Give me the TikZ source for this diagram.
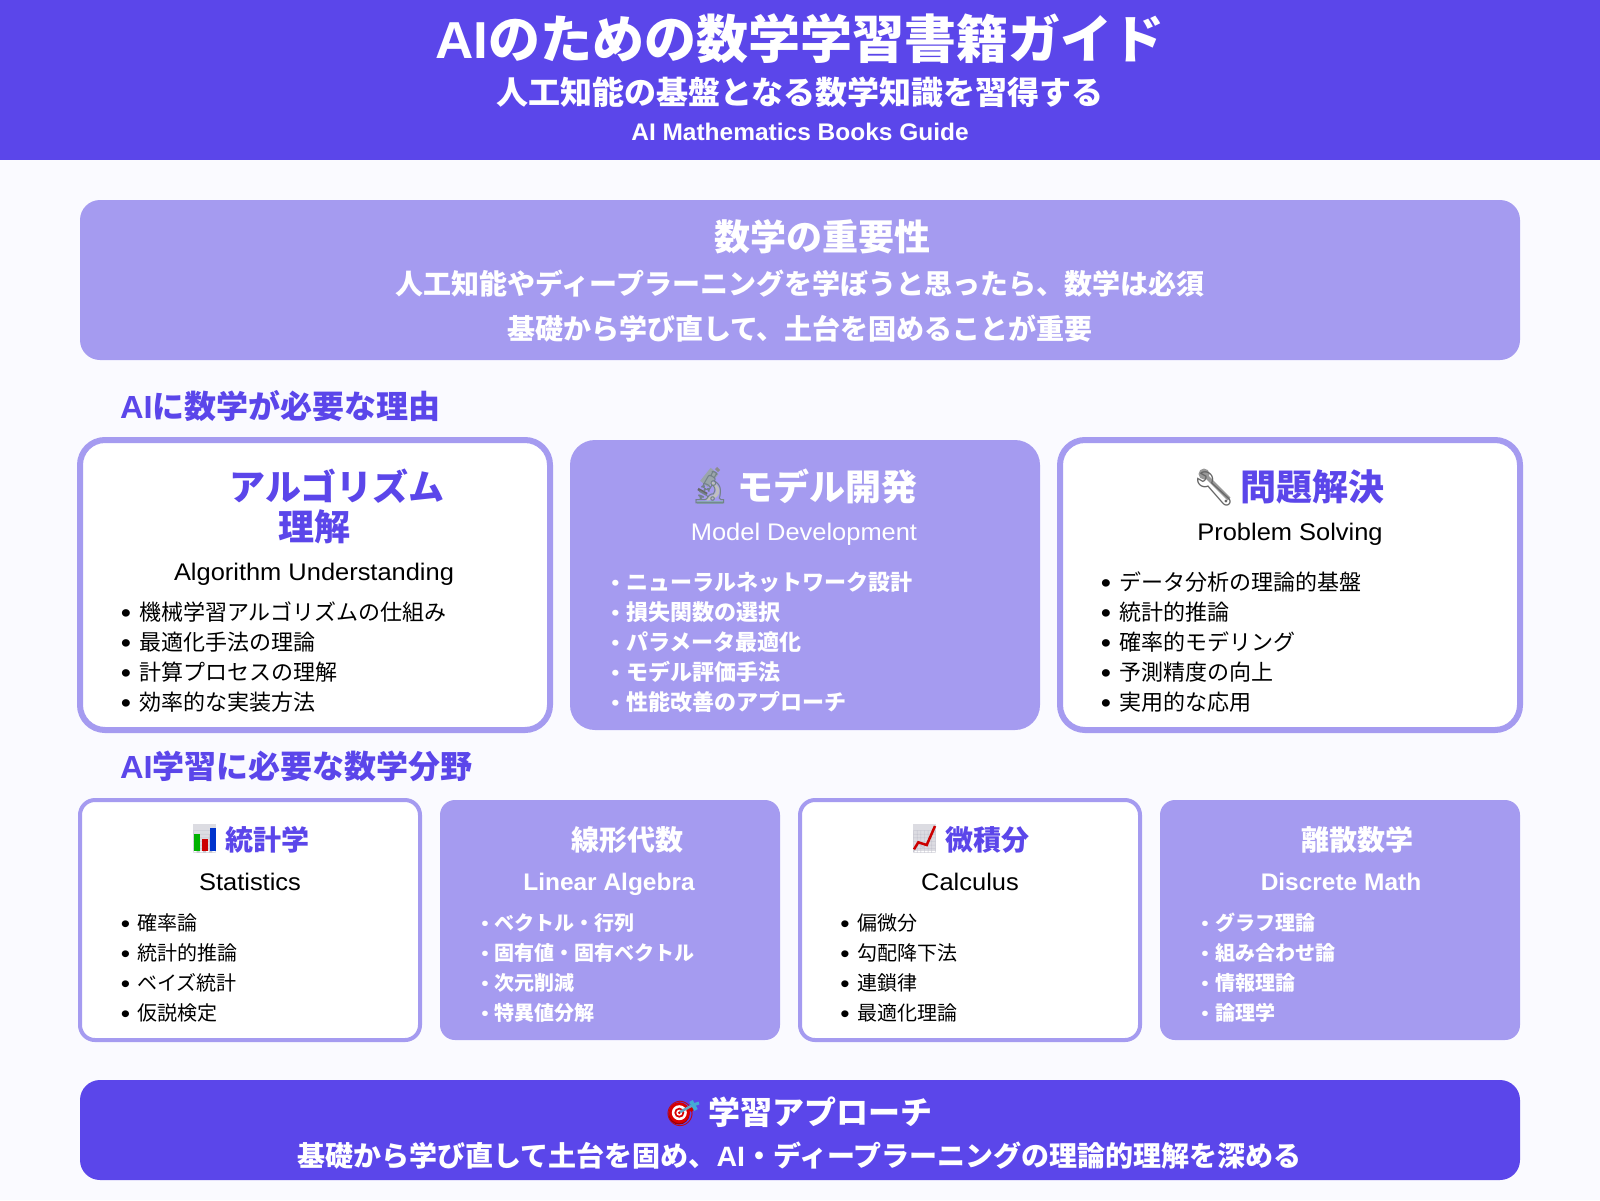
\documentclass[tikz,border=0pt]{standalone}
\usepackage{fontspec}
\newfontfamily\jp{Noto Sans CJK JP}
\newcommand{\jpm}{\jp\bfseries}
\newfontfamily\la[FakeStretch=1.06,BoldFeatures={FakeStretch=1.02}]{Liberation Sans}
\newfontfamily\emo{Noto Emoji}
\definecolor{deep}{HTML}{5B46EA}
\definecolor{soft}{HTML}{A59BF0}
\definecolor{paper}{HTML}{FAFAFF}
\newcommand{\fs}[1]{\fontsize{#1}{#1}\selectfont}
\newcommand{\AIb}{{\la\bfseries AI}}
\tikzset{
  every node/.style={inner sep=0pt,outer sep=0pt},
  txt/.style={anchor=base,font=\jp},
  txtw/.style={anchor=base west,font=\jp},
  softbox/.style={rounded corners=#1,fill=soft,draw=none},
  linebox/.style={rounded corners=#1,fill=white,draw=soft},
  deepbox/.style={rounded corners=#1,fill=deep,draw=none},
}
% name, bullet x, text x, first baseline, size, style, bullet scale, items
\newcommand{\bulletlist}[8]{%
  \pgfmathsetmacro{\bsz}{#5*#7}
  \pgfmathsetmacro{\bdrop}{(#7-1)*0.5}
  \foreach \t [count=\i from 0] in {#8}{%
    \pgfmathsetmacro{\yy}{#4+30*\i}
    \node[anchor=base west,#6] (#1-\i) at (#2,\yy)
      {\fs{#5}\makebox[0pt][c]{\raisebox{-\bdrop em}{\la\mdseries\fs{\bsz}•}}\hspace{\dimexpr#3pt-#2pt\relax}\t};
  }%
}
\begin{document}
\begin{tikzpicture}[x=1pt,y=-1pt]
\useasboundingbox (0,0) rectangle (1600,1200);
\fill[paper] (0,0) rectangle (1600,1200);
\node[fill=deep,minimum width=1600pt,minimum height=160pt] (header) at (800,80) {};
\node[txt,text=white] (title) at (800,58.5) {\fs{52}\bfseries\jp\AIb のための数学学習書籍ガイド};
\node[txt,text=white] (subtitle) at (800,104) {\fs{32}\jp\bfseries 人工知能の基盤となる数学知識を習得する};
\node[txt,text=white] (english) at (800,140) {\fs{24}\la\bfseries AI Mathematics Books Guide};

\node[softbox=20pt,minimum width=1440pt,minimum height=160pt] (intro) at (800,280) {};
\node[txt,text=white] (introhead) at (822,250) {\fs{36}\jp\bfseries 数学の重要性};
\node[txt,text=white] (introa) at (800,294) {\fs{28}\jpm 人工知能やディープラーニングを学ぼうと思ったら、数学は必須};
\node[txt,text=white] (introb) at (800,339) {\fs{28}\jpm 基礎から学び直して、土台を固めることが重要};

\node[txtw,text=deep] (sec1) at (120,418) {\fs{32}\jp\bfseries\AIb に数学が必要な理由};

\node[linebox=25pt,line width=6pt,minimum width=470pt,minimum height=290pt] (c1) at (315,585) {};
\node[softbox=25pt,minimum width=470pt,minimum height=290pt] (c2) at (805,585) {};
\node[linebox=25pt,line width=6pt,minimum width=460pt,minimum height=290pt] (c3) at (1290,585) {};

\node[txt,text=deep] (c1ta) at (337,500) {\fs{36}\jp\bfseries アルゴリズム};
\node[txt,text=deep] (c1tb) at (314,540) {\fs{36}\jp\bfseries 理解};
\node[txt] (c1s) at (314,580) {\fs{24}\la Algorithm Understanding};
\bulletlist{c1l}{126}{139}{620}{22}{text=black,font=\jp}{1.25}{機械学習アルゴリズムの仕組み,最適化手法の理論,計算プロセスの理解,効率的な実装方法}

% microscope
\draw[line width=10pt,color=black!35!cyan!20!gray!80] (714.5,471) -- (704,484);
\draw[line width=3pt,color=black!45] (716,468) -- (719,471);
\draw[line width=3.5pt,color=gray!50,line cap=round] (712,483) .. controls (722,490) and (718,497) .. (707,499);
\draw[line width=2.5pt,color=black!60] (698,489) -- (707,494);
\draw[line width=3pt,color=cyan!30!gray!90] (697,502) -- (723,502);
\node[txt,text=cyan!25!black!70] (c2e) at (710,498) {\fs{32}\emo 🔬};
\node[txtw,text=white] (c2t) at (737,500) {\fs{36}\jp\bfseries モデル開発};
\node[txt,text=white] (c2s) at (804,540) {\fs{24}\la Model Development};
\bulletlist{c2l}{615.5}{626}{590}{22}{text=white,font=\jpm}{1}{ニューラルネットワーク設計,損失関数の選択,パラメータ最適化,モデル評価手法,性能改善のアプローチ}

% wrench
\draw[line width=4pt,color=gray!80] (1205,475) -- (1229,499);
\fill[gray!80] (1204,474) circle (5.5pt);
\node[txt,text=black!60] (c3e) at (1214,500) {\fs{34}\emo 🔧};
\node[txtw,text=deep] (c3t) at (1240,500) {\fs{36}\jp\bfseries 問題解決};
\node[txt] (c3s) at (1290,540) {\fs{24}\la Problem Solving};
\bulletlist{c3l}{1106}{1119}{590}{22}{text=black,font=\jp}{1.25}{データ分析の理論的基盤,統計的推論,確率的モデリング,予測精度の向上,実用的な応用}

\node[txtw,text=deep] (sec2) at (120,778) {\fs{32}\jp\bfseries\AIb 学習に必要な数学分野};

\node[linebox=15pt,line width=4pt,minimum width=340pt,minimum height=240pt] (d1) at (250,920) {};
\node[softbox=15pt,minimum width=340pt,minimum height=240pt] (d2) at (610,920) {};
\node[linebox=15pt,line width=4pt,minimum width=340pt,minimum height=240pt] (d3) at (970,920) {};
\node[softbox=15pt,minimum width=360pt,minimum height=240pt] (d4) at (1340,920) {};

% bar chart
\fill[blue!10!gray!25] (193,824) rectangle (216,851);
\node[txt,text=blue!10!gray!40] (d1e) at (204.5,849) {\fs{22}\emo 📊};
\fill[green!70!black] (194,834) rectangle (200,851);
\fill[red!80!black] (202,839) rectangle (208,851);
\fill[blue!75!cyan!80!black] (210,828) rectangle (215.5,851);
\node[txtw,text=deep] (d1t) at (225,850) {\fs{28}\jp\bfseries 統計学};
\node[txt] (d1s) at (250,890) {\fs{24}\la Statistics};
\bulletlist{d1l}{125.5}{137}{930}{20}{text=black,font=\jp}{1.25}{確率論,統計的推論,ベイズ統計,仮説検定}

\node[txt,text=white] (d2t) at (627.5,850) {\fs{28}\jp\bfseries 線形代数};
\node[txt,text=white] (d2s) at (609,890) {\fs{24}\la\bfseries Linear Algebra};
\bulletlist{d2l}{485}{494}{930}{20}{text=white,font=\jpm}{1}{ベクトル・行列,固有値・固有ベクトル,次元削減,特異値分解}

% line chart
\fill[blue!10!gray!25] (913,824) rectangle (935.5,851);
\node[txt,text=blue!10!gray!40] (d3e) at (924.5,849) {\fs{22}\emo 📈};
\draw[red!80!black,line width=2.5pt] (914,849.3) -- (918.3,842.3) -- (926.7,845) -- (935,826);
\node[txtw,text=deep] (d3t) at (945,850) {\fs{28}\jp\bfseries 微積分};
\node[txt] (d3s) at (970,890) {\fs{24}\la Calculus};
\bulletlist{d3l}{845}{857}{930}{20}{text=black,font=\jp}{1.25}{偏微分,勾配降下法,連鎖律,最適化理論}

\node[txt,text=white] (d4t) at (1357,850) {\fs{28}\jp\bfseries 離散数学};
\node[txt,text=white] (d4s) at (1341,890) {\fs{24}\la\bfseries Discrete Math};
\bulletlist{d4l}{1205}{1215}{930}{20}{text=white,font=\jpm}{1}{グラフ理論,組み合わせ論,情報理論,論理学}

\node[deepbox=20pt,minimum width=1440pt,minimum height=100pt] (foot) at (800,1130) {};
% target
\node[txt,text=red!80!black] (fe) at (681,1122) {\fs{25}\emo 🎯};
\fill[red!60!black] (679,1114) circle (10.5pt);
\fill[red!85!black] (679.3,1112.7) circle (10.5pt);
\fill[white] (679.3,1112.7) circle (7.5pt);
\fill[red!85!black] (679.3,1112.7) circle (5pt);
\fill[white] (679.3,1112.7) circle (3pt);
\fill[red!85!black] (679.3,1112.7) circle (1.5pt);
\draw[cyan!50!gray,line width=2.5pt] (680,1112) -- (693,1105);
\draw[cyan!70!gray,line width=4pt] (691,1101) -- (696,1110);
\draw[cyan!70!gray,line width=3pt] (693,1105) -- (699,1103);
\node[txtw,text=white] (ft) at (708,1124) {\fs{32}\jp\bfseries 学習アプローチ};
\node[txt,text=white] (fs) at (799.5,1166) {\fs{28}\jp\bfseries 基礎から学び直して土台を固め、\AIb ・ディープラーニングの理論的理解を深める};
\end{tikzpicture}
\end{document}
